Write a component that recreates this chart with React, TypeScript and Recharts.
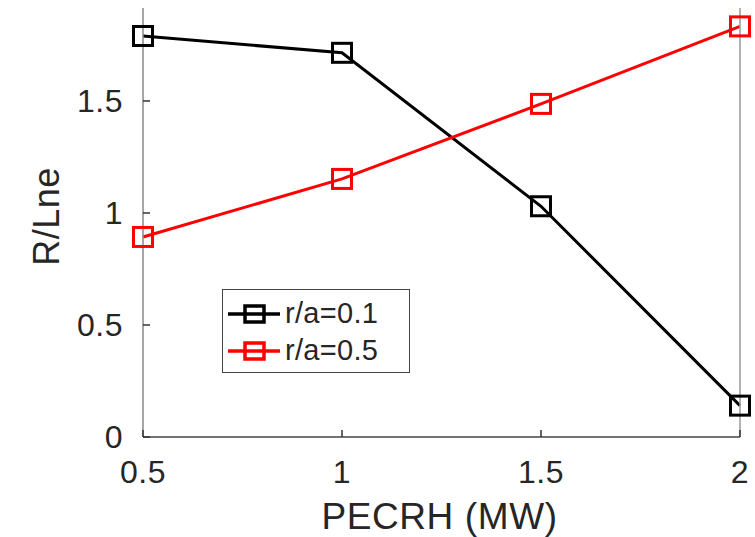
import { LineChart, Line, XAxis, YAxis } from 'recharts';

// PECRH (MW) scan
const pecrh = [0.5, 1, 1.5, 2];
const core = [1.79, 1.715, 1.03, 0.14]; // r/a=0.1
const mid = [0.893, 1.152, 1.487, 1.833]; // r/a=0.5

const xTicks = [0.5, 1, 1.5, 2];
const yTicks = [0, 0.5, 1, 1.5];

const seriesNames = ['r/a=0.1', 'r/a=0.5'];
const seriesColors = ['#000000', '#ff0000'];

const data = pecrh.map((p, i) => ({ p, core: core[i], mid: mid[i] }));

const FONT = '"Liberation Sans", Arial, Helvetica, sans-serif';
const TEXT = '#262626';

const square = (color: string) => (props: any) => {
  const { cx, cy, index } = props;
  if (cx == null || cy == null) return <g key={`e-${index}`} />;
  return (
    <rect
      key={`sq-${color}-${index}`}
      x={cx - 9.5}
      y={cy - 9.5}
      width={19}
      height={19}
      fill="none"
      stroke={color}
      strokeWidth={3}
    />
  );
};

const LeftTick = (props: any) => {
  const { x, y, payload } = props;
  return (
    <g>
      <line x1={x} x2={x + 7} y1={y} y2={y} stroke="#333" strokeWidth={1.5} />
      <text x={x - 20} y={y} dy={11} textAnchor="end" fontSize={32} letterSpacing={0.5} fill={TEXT} fontFamily={FONT}>
        {payload.value}
      </text>
    </g>
  );
};

const RightTick = (props: any) => {
  const { x, y } = props;
  return <line x1={x - 7} x2={x} y1={y} y2={y} stroke="#333" strokeWidth={1.5} />;
};

const BottomTick = (props: any) => {
  const { x, y, payload } = props;
  return (
    <g>
      <line x1={x} x2={x} y1={y} y2={y - 7} stroke="#333" strokeWidth={1.5} />
      <text x={x} y={y + 46} textAnchor="middle" fontSize={32} letterSpacing={0.5} fill={TEXT} fontFamily={FONT}>
        {payload.value}
      </text>
    </g>
  );
};

const LegendBox = () => (
  <div
    style={{
      position: 'absolute',
      left: 222,
      top: 289,
      width: 186,
      height: 82,
      border: '1.3px solid #444',
      background: '#fff',
      fontFamily: FONT,
      color: TEXT,
      boxSizing: 'content-box',
    }}
  >
    {seriesNames.map((name, i) => (
      <div key={name} style={{ display: 'flex', alignItems: 'center', height: 37, marginTop: i === 0 ? 5 : 0 }}>
        <svg width={62} height={24} style={{ display: 'block' }}>
          <line x1={5} x2={57} y1={12} y2={12} stroke={seriesColors[i]} strokeWidth={3.5} />
          <rect x={22} y={4} width={19} height={16} fill="none" stroke={seriesColors[i]} strokeWidth={3.5} />
        </svg>
        <span style={{ fontSize: 29, lineHeight: '29px', letterSpacing: 0.3 }}>{name}</span>
      </div>
    ))}
  </div>
);

export default function App() {
  return (
    <div style={{ position: 'absolute', left: 0, top: 0, width: 755, height: 537, background: '#fff' }}>
      <LineChart width={755} height={537} data={data} margin={{ top: 8, right: 0, bottom: 0, left: 0 }}>
        <XAxis
          dataKey="p"
          type="number"
          domain={[0.5, 2]}
          ticks={xTicks}
          height={100}
          tickSize={0}
          tickMargin={0}
          tickLine={false}
          tick={<BottomTick />}
          axisLine={{ stroke: '#444', strokeWidth: 1.5 }}
          label={({ viewBox }: any) => (
            <text
              x={viewBox.x + viewBox.width / 2 - 2}
              y={viewBox.y + 92}
              textAnchor="middle"
              fontSize={37}
              letterSpacing={0.6}
              fill={TEXT}
              fontFamily={FONT}
            >
              PECRH (MW)
            </text>
          )}
        />
        <YAxis
          yAxisId="l"
          type="number"
          domain={[0, 1.915]}
          ticks={yTicks}
          width={143}
          tickSize={0}
          tickMargin={0}
          tickLine={false}
          tick={<LeftTick />}
          axisLine={{ stroke: '#888', strokeWidth: 1.5 }}
          label={({ viewBox }: any) => {
            const cx = 59;
            const cy = viewBox.y + viewBox.height / 2 - 6;
            return (
              <text
                x={cx}
                y={cy}
                transform={`rotate(-90, ${cx}, ${cy})`}
                textAnchor="middle"
                fontSize={36}
                letterSpacing={0.5}
                fill={TEXT}
                fontFamily={FONT}
              >
                R/Lne
              </text>
            );
          }}
        />
        <YAxis
          yAxisId="r"
          orientation="right"
          type="number"
          domain={[0, 1.915]}
          ticks={yTicks}
          width={15}
          tickSize={0}
          tickMargin={0}
          tickLine={false}
          tick={<RightTick />}
          axisLine={{ stroke: '#999', strokeWidth: 1.5 }}
        />
        <Line
          yAxisId="l"
          dataKey="core"
          name={seriesNames[0]}
          stroke={seriesColors[0]}
          strokeWidth={3}
          dot={square(seriesColors[0])}
          activeDot={false}
          isAnimationActive={false}
        />
        <Line
          yAxisId="l"
          dataKey="mid"
          name={seriesNames[1]}
          stroke={seriesColors[1]}
          strokeWidth={3}
          dot={square(seriesColors[1])}
          activeDot={false}
          isAnimationActive={false}
        />
      </LineChart>
      <LegendBox />
    </div>
  );
}
